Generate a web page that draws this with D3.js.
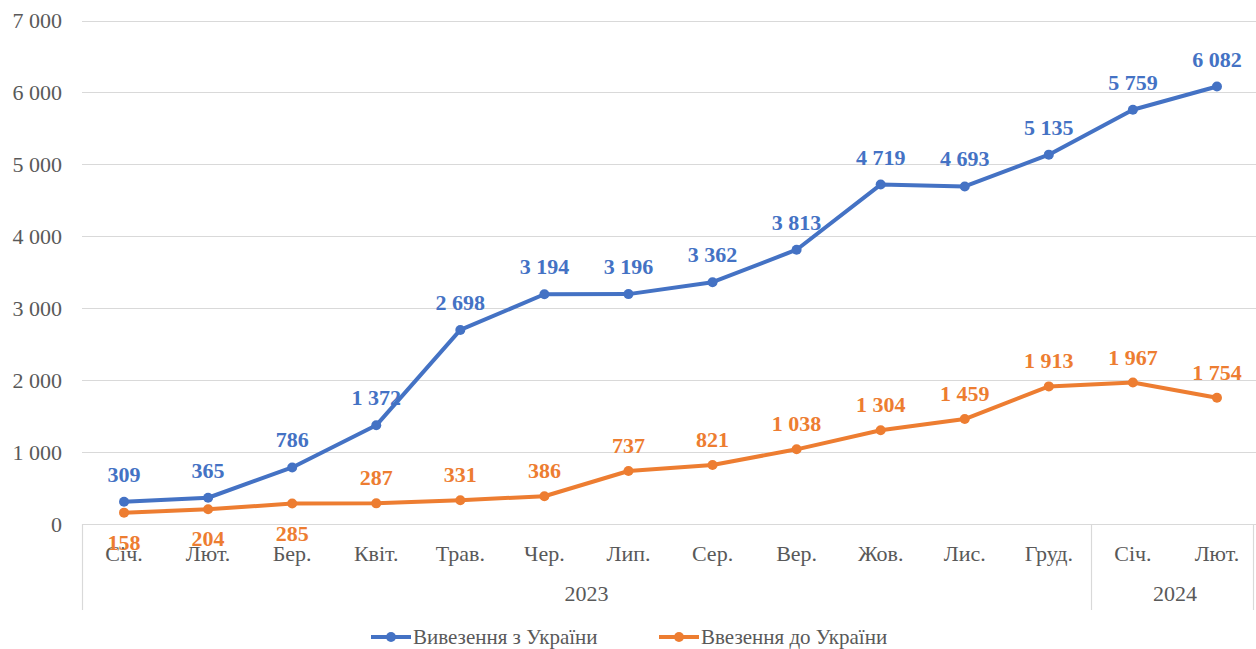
<!DOCTYPE html>
<html>
<head>
<meta charset="utf-8">
<script src="https://cdn.jsdelivr.net/npm/d3@7"></script>
<style>
  html, body { margin: 0; padding: 0; background: #fff; }
  svg { display: block; }
  text { font-family: "Liberation Serif", "Times New Roman", serif; }
</style>
</head>
<body>
<svg id="chart" width="1256" height="649"></svg>
<script>
// Monthly values, 2023 – early 2024
const months = ["Січ.", "Лют.", "Бер.", "Квіт.", "Трав.", "Чер.", "Лип.", "Сер.", "Вер.", "Жов.", "Лис.", "Груд.", "Січ.", "Лют."];
const years = ["2023", "2023", "2023", "2023", "2023", "2023", "2023", "2023", "2023", "2023", "2023", "2023", "2024", "2024"];
const exportValues = [309, 365, 786, 1372, 2698, 3194, 3196, 3362, 3813, 4719, 4693, 5135, 5759, 6082];
const importValues = [158, 204, 285, 287, 331, 386, 737, 821, 1038, 1304, 1459, 1913, 1967, 1754];
// label placement for the second series: true = below the point
const importBelow = [true, true, true, false, false, false, false, false, false, false, false, false, false, false];
const yTicks = [0, 1000, 2000, 3000, 4000, 5000, 6000, 7000];
const seriesNames = ["Вивезення з України", "Ввезення до України"];
const colors = ["#4472C4", "#ED7D31"];

const W = 1256, H = 649;
const svg = d3.select("#chart");
const idx = months.map((_, i) => i);

const x = d3.scaleBand().domain(idx).range([82, 1259]).paddingInner(0).paddingOuter(0);
const cx = i => x(i) + x.bandwidth() / 2;
const y = d3.scaleLinear().domain([0, 7000]).range([524, 20.5]);

const fmt = v => d3.format(",")(v).replace(/,/g, " ");

// gridlines
svg.append("g").selectAll("line").data(yTicks).join("line")
  .attr("x1", 82).attr("x2", W)
  .attr("y1", d => Math.round(y(d)) + 0.5).attr("y2", d => Math.round(y(d)) + 0.5)
  .attr("stroke", "#d9d9d9").attr("stroke-width", 1.2);

// y-axis labels
svg.append("g").selectAll("text").data(yTicks).join("text")
  .attr("x", 62).attr("y", d => y(d))
  .attr("dy", "0.35em").attr("text-anchor", "end")
  .attr("font-size", 22).attr("fill", "#595959")
  .text(d => fmt(d));

// category axis: month labels
svg.append("g").selectAll("text").data(idx).join("text")
  .attr("x", i => cx(i)).attr("y", 561)
  .attr("text-anchor", "middle").attr("font-size", 22).attr("fill", "#595959")
  .text(i => months[i]);

// year groups with separators
const groups = d3.groups(idx, i => years[i]);
const seps = [x(0)];
groups.forEach(([yr, arr]) => {
  const last = arr[arr.length - 1];
  seps.push(Math.min(x(last) + x.bandwidth(), 1253));
});
svg.append("g").selectAll("line").data(seps).join("line")
  .attr("x1", d => Math.round(d) + 0.5).attr("x2", d => Math.round(d) + 0.5)
  .attr("y1", 524).attr("y2", 610)
  .attr("stroke", "#d9d9d9").attr("stroke-width", 1.2);
svg.append("g").selectAll("text").data(groups).join("text")
  .attr("x", ([yr, arr]) => (cx(arr[0]) + cx(arr[arr.length - 1])) / 2)
  .attr("y", 601)
  .attr("text-anchor", "middle").attr("font-size", 22).attr("fill", "#595959")
  .text(([yr]) => yr);

// series lines and markers
const line = d3.line().x((d, i) => cx(i)).y(d => y(d));
[exportValues, importValues].forEach((vals, s) => {
  svg.append("path").datum(vals)
    .attr("d", line).attr("fill", "none")
    .attr("stroke", colors[s]).attr("stroke-width", 4)
    .attr("stroke-linejoin", "round").attr("stroke-linecap", "round");
  svg.append("g").selectAll("circle").data(vals).join("circle")
    .attr("cx", (d, i) => cx(i)).attr("cy", d => y(d)).attr("r", 5)
    .attr("fill", colors[s]);
});

// data labels
svg.append("g").selectAll("text").data(exportValues).join("text")
  .attr("x", (d, i) => cx(i)).attr("y", d => y(d) - 20)
  .attr("text-anchor", "middle").attr("font-size", 22).attr("font-weight", "bold")
  .attr("fill", colors[0]).text(d => fmt(d));
svg.append("g").selectAll("text").data(importValues).join("text")
  .attr("x", (d, i) => cx(i)).attr("y", (d, i) => importBelow[i] ? y(d) + 37 : y(d) - 18)
  .attr("text-anchor", "middle").attr("font-size", 22).attr("font-weight", "bold")
  .attr("fill", colors[1]).text(d => fmt(d));

// legend
const legendX = [371, 659];
const leg = svg.append("g");
seriesNames.forEach((name, s) => {
  const lx = legendX[s];
  leg.append("line").attr("x1", lx).attr("x2", lx + 40).attr("y1", 637).attr("y2", 637)
    .attr("stroke", colors[s]).attr("stroke-width", 4);
  leg.append("circle").attr("cx", lx + 20).attr("cy", 637).attr("r", 5).attr("fill", colors[s]);
  leg.append("text").attr("x", lx + 42).attr("y", 644)
    .attr("font-size", 21).attr("fill", "#595959").text(name);
});
</script>
</body>
</html>
